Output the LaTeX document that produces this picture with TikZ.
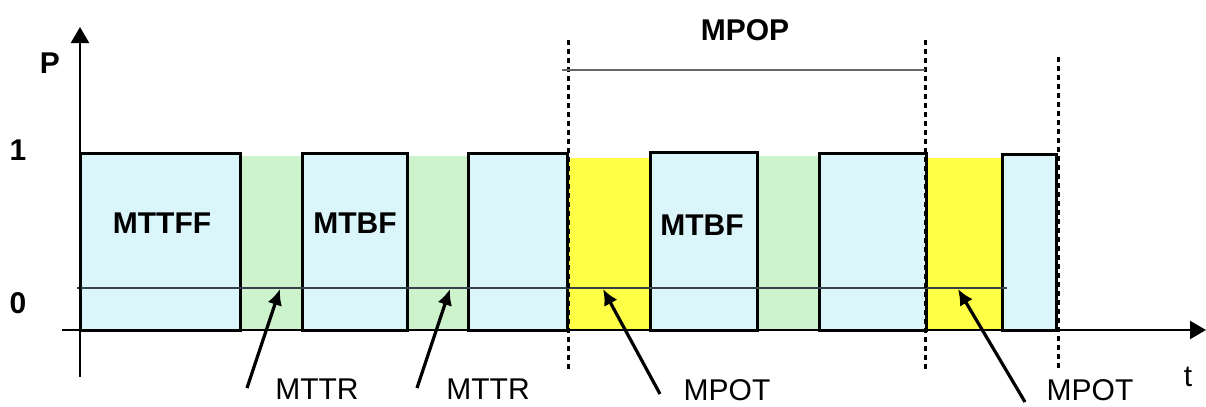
\documentclass[tikz,border=0pt]{standalone}
\usepackage{fontspec}
\setmainfont{Liberation Sans}
\usetikzlibrary{arrows.meta,fit}
\definecolor{upblue}{RGB}{218,246,251}
\definecolor{repgreen}{RGB}{204,243,204}
\definecolor{pmyellow}{RGB}{255,255,72}
\definecolor{levelline}{RGB}{55,65,75}
\tikzset{
  upbox/.style={draw=black, line width=1.5pt, fill=upblue, inner sep=0pt},
  repair/.style={fill=repgreen, draw=none, inner sep=0pt},
  maint/.style={fill=pmyellow, draw=none, inner sep=0pt},
  axis/.style={line width=1.1pt, -{Triangle[length=8pt,width=9pt]}},
  marker/.style={line width=1.5pt, dash pattern=on 2.5pt off 2pt},
  pointer/.style={line width=1.6pt, -{Latex[length=8pt,width=7.5pt]}},
  lbl/.style={font=\fontsize{15}{18}\selectfont, inner sep=0pt},
  blbl/.style={font=\fontsize{15}{18}\selectfont\bfseries, inner sep=0pt}
}
\begin{document}
\begin{tikzpicture}[x=0.5pt,y=-0.5pt]
\useasboundingbox (0,0) rectangle (1206,407);

% repair and preventive maintenance intervals
\node[repair, fit={(240,156) (302,330)}] (r1) {};
\node[repair, fit={(407,156) (468,330)}] (r2) {};
\node[maint,  fit={(567,158) (650,330)}] (m1) {};
\node[repair, fit={(757,156) (819,330)}] (r3) {};
\node[maint,  fit={(926,158) (1002,330)}] (m2) {};

% up-time intervals
\node[upbox, fit={(80,153) (240,330)}] (u1) {};
\node[upbox, fit={(302,153) (407,330)}] (u2) {};
\node[upbox, fit={(468,153) (567,330)}] (u3) {};
\node[upbox, fit={(650,152) (757,330)}] (u4) {};
\node[upbox, fit={(819,153) (926,330)}] (u5) {};
\node[upbox, fit={(1002,154) (1056,330)}] (u6) {};

% level line
\coordinate (l0) at (77,288);
\coordinate (l1) at (1007,288);
\draw[levelline, line width=1.1pt] (l0) -- (l1);

% axes
\coordinate (xa0) at (62,330);
\coordinate (xa1) at (1206,330);
\coordinate (ya0) at (80,377);
\coordinate (ya1) at (80,27);
\draw[axis] (xa0) -- (xa1);
\draw[axis] (ya0) -- (ya1);

% period markers
\coordinate (d1a) at (568,40);  \coordinate (d1b) at (568,369);
\coordinate (d2a) at (925,40);  \coordinate (d2b) at (925,370);
\coordinate (d3a) at (1058,57); \coordinate (d3b) at (1058,370);
\draw[marker] (d1a) -- (d1b);
\draw[marker] (d2a) -- (d2b);
\draw[marker] (d3a) -- (d3b);

% MPOP span
\coordinate (p0) at (562,70);
\coordinate (p1) at (925,70);
\draw[gray!80!black, line width=0.7pt] (p0) -- (p1);
\node[blbl] (mpop) at (745,30) {MPOP};

% axis labels
\node[blbl] (pl) at (50,63) {P};
\node[blbl] (one) at (18,150) {1};
\node[blbl] (zero) at (18,303) {0};
\node[lbl] (tl) at (1188,377) {t};

% interval labels
\node[blbl] (mttff) at (162,223) {MTTFF};
\node[blbl] (mtbf1) at (355,223) {MTBF};
\node[blbl] (mtbf2) at (702,225) {MTBF};

% pointer labels
\node[lbl] (mttr1) at (317,389) {MTTR};
\node[lbl] (mttr2) at (488,389) {MTTR};
\node[lbl] (mpot1) at (727,390) {MPOT};
\node[lbl] (mpot2) at (1090,390) {MPOT};

\coordinate (a1t) at (247,388);  \coordinate (a1h) at (280,289);
\coordinate (a2t) at (417,388);  \coordinate (a2h) at (450,289);
\coordinate (a3t) at (660,394);  \coordinate (a3h) at (603,289);
\coordinate (a4t) at (1025,402); \coordinate (a4h) at (958,289);
\draw[pointer] (a1t) -- (a1h);
\draw[pointer] (a2t) -- (a2h);
\draw[pointer] (a3t) -- (a3h);
\draw[pointer] (a4t) -- (a4h);
\end{tikzpicture}
\end{document}
